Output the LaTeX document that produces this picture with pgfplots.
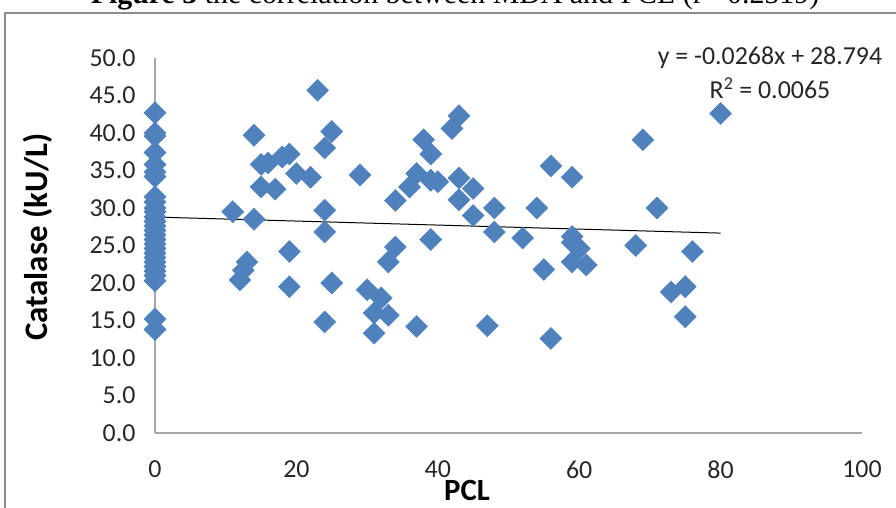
\documentclass[border=0pt]{standalone}
\usepackage{fontspec}
\setmainfont{Carlito}
\newfontfamily\timesfont{Liberation Serif}
\usepackage{pgfplots}
\pgfplotsset{compat=1.18}
\definecolor{ptblue}{HTML}{4F81BD}
\definecolor{framegray}{HTML}{8C8C8C}
\definecolor{axgray}{HTML}{A6A6A6}
\pgfplotstableread{
x y
0 42.7
0 40.0
0 39.6
0 37.4
0 35.8
0 34.8
0 34.2
0 31.5
0 30.8
0 30.0
0 29.5
0 28.8
0 28.2
0 27.6
0 27.0
0 26.4
0 25.8
0 25.2
0 24.6
0 24.0
0 23.4
0 22.8
0 22.2
0 21.6
0 21.0
0 20.3
0 15.2
0 13.8
11 29.5
12 20.4
12.5 21.7
13 22.8
14 39.7
14 28.5
15 35.8
15 32.8
16 36.0
17 32.5
18 36.8
19 37.2
19 24.2
19 19.5
20 34.6
22 34.1
23 45.7
24 38.0
24 29.7
24 26.8
24 14.8
25 40.2
25 20.0
29 34.4
30 19.1
31 16.0
31 13.3
32 18.0
33 15.7
33 22.8
34 24.8
34 31.0
36 32.8
37 34.6
37 14.2
38 39.1
39 37.2
39 33.7
39 25.8
40 33.5
42 40.6
43 42.3
43 34.0
43 31.1
45 32.6
45 29.0
47 14.3
48 30.0
48 26.8
52 26.0
54 30.0
55 21.8
56 35.6
56 12.6
59 34.1
59 26.2
59 25.4
60 24.6
59 22.8
61 22.4
68 25.0
69 39.1
71 30.0
73 18.8
75 19.5
75 15.5
76 24.2
80 42.6
}\datatable
\begin{document}
\begin{tikzpicture}[x=1bp,y=1bp]
\path[use as bounding box] (0,0) rectangle (896,508);
\draw[framegray, line width=1.5bp] (5,-20) -- (5,495) -- (920,495);
\node[font=\timesfont\fontsize{30}{32}\selectfont, anchor=base] at (455,504) {\textbf{Figure 3} the correlation between MDA and PCL (r= 0.2519)};
\begin{axis}[
  at={(155bp,75bp)}, anchor=south west,
  scale only axis, width=707bp, height=375bp,
  xmin=0, xmax=100, ymin=0, ymax=50,
  xtick={0,20,...,100}, ytick={0,5,...,50},
  axis x line=bottom, axis y line=left,
  axis line style={-, draw=axgray, line width=1.5bp},
  major tick length=0pt,
  tick label style={font=\fontsize{26}{28}\selectfont, text=black!85},
  /pgf/number format/assume math mode=true,
  yticklabel style={/pgf/number format/fixed, /pgf/number format/fixed zerofill, /pgf/number format/precision=1, xshift=-16bp},
  xticklabel style={yshift=-24bp},
  clip=false,
]
\addplot[only marks, mark=square*, mark size=7.8bp, mark options={rotate=45, fill=ptblue, draw=ptblue}] table[x=x,y=y] {\datatable};
\addplot[black, line width=1bp] coordinates {(0,28.794) (80,26.65)};
\end{axis}
\node[font=\fontsize{26}{28}\selectfont, text=black!85] at (770,450) {y = -0.0268x + 28.794};
\node[font=\fontsize{26}{28}\selectfont, text=black!85] at (770,420) {R\textsuperscript{2} = 0.0065};
\node[font=\bfseries\fontsize{33}{35}\selectfont, rotate=90] at (38,271) {Catalase (kU/L)};
\node[font=\bfseries\fontsize{31}{33}\selectfont, anchor=base, inner sep=0pt] at (467,7) {PCL};
\end{tikzpicture}
\end{document}
